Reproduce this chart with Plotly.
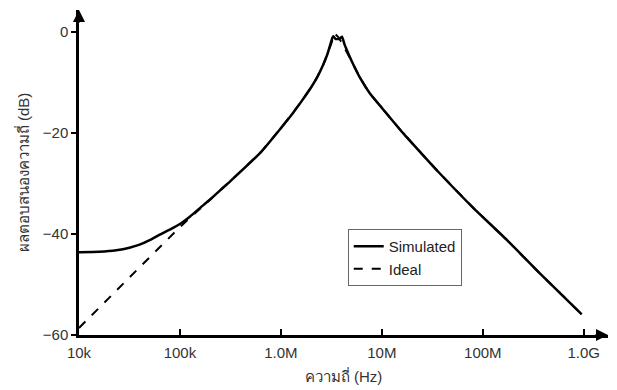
import plotly.graph_objects as go

# Ideal response (Hz, dB)
ideal_f = [1.0e4, 1.0e5, 3.162e5, 6.31e5, 1.0e6, 1.318e6, 1.585e6, 1.995e6, 2.291e6,
           2.63e6, 2.884e6, 3.162e6, 3.388e6, 3.715e6, 3.981e6, 4.467e6, 5.129e6,
           6.026e6, 7.586e6, 1.0e7, 1.622e7, 2.512e7, 3.715e7, 7.943e7, 1.738e8,
           3.631e8, 9.55e8]
ideal_db = [-58.6, -38.6, -29.5, -23.8, -19.0, -16.0, -13.8, -10.9, -8.9,
            -6.4, -4.4, -2.2, -0.2, -1.0, -2.0, -3.8, -6.1,
            -8.9, -12.1, -15.0, -20.0, -24.2, -27.9, -34.7, -41.2,
            -47.7, -55.9]

# Simulated response (Hz, dB)
sim_f = [1.0e4, 1.585e4, 2.34e4, 3.162e4, 3.98e4, 5.01e4, 6.31e4, 7.94e4, 1.0e5,
         1.26e5, 1.585e5, 2.0e5, 2.512e5, 3.162e5, 6.31e5, 1.0e6, 1.318e6, 1.585e6,
         1.995e6, 2.291e6, 2.63e6, 2.884e6, 3.09e6, 3.236e6, 3.311e6, 3.467e6,
         3.802e6, 4.027e6, 4.266e6, 4.677e6, 5.129e6, 6.026e6, 7.586e6, 1.0e7,
         1.622e7, 2.512e7, 3.715e7, 7.943e7, 1.738e8, 3.631e8, 9.55e8]
sim_db = [-43.6, -43.5, -43.2, -42.7, -42.1, -41.2, -40.1, -39.1, -38.0,
          -36.5, -34.8, -33.1, -31.3, -29.5, -23.8, -19.0, -16.0, -13.8,
          -10.9, -8.9, -6.4, -4.4, -2.4, -1.1, -0.8, -1.3,
          -1.3, -0.9, -2.4, -4.3, -6.1, -8.9, -12.1, -15.0,
          -20.0, -24.2, -27.9, -34.7, -41.2, -47.7, -55.9]

x_tickvals = [1e4, 1e5, 1e6, 1e7, 1e8, 1e9]
x_ticktext = ["10k", "100k", "1.0M", "10M", "100M", "1.0G"]
y_tickvals = [0, -20, -40, -60]

FONT = "Liberation Sans, Arial, sans-serif"
fig = go.Figure()
fig.add_trace(go.Scatter(x=sim_f, y=sim_db, mode="lines", name="Simulated",
                         line=dict(color="black", width=2.5, shape="spline", smoothing=0.5)))
fig.add_trace(go.Scatter(x=ideal_f, y=ideal_db, mode="lines", name="Ideal",
                         line=dict(color="black", width=2, dash="dash")))

# the page body adds an 8px offset, so the figure is sized to the remaining area
fig.update_layout(
    width=609, height=382,
    margin=dict(l=71, r=9, t=2, b=55, autoexpand=False),
    paper_bgcolor="white", plot_bgcolor="white",
    font=dict(family=FONT, size=15, color="#333"),
    showlegend=True,
    legend=dict(x=0.508, y=0.326, xanchor="left", yanchor="top",
                bordercolor="#666", borderwidth=1, bgcolor="white",
                font=dict(size=15, color="#222"), tracegroupgap=2,
                itemwidth=30),
    xaxis=dict(type="log", range=[4, 9.24], tickvals=x_tickvals, ticktext=x_ticktext,
               ticks="inside", ticklen=6, tickwidth=2, tickcolor="black",
               ticklabelstandoff=2,
               showline=True, linecolor="black", linewidth=2.5, showgrid=False,
               zeroline=False, automargin=False,
               title=dict(text="ความถี่ (Hz)", standoff=12, font=dict(size=15, color="#333"))),
    yaxis=dict(range=[-60, 4.4], tickvals=y_tickvals,
               ticks="outside", ticklen=5, tickwidth=2, tickcolor="black",
               showline=True, linecolor="black", linewidth=2.5, showgrid=False,
               zeroline=False, automargin=False,
               title=dict(text="ผลตอบสนองความถี่ (dB)", standoff=10, font=dict(size=15, color="#333"))),
)

# axis arrows
fig.add_annotation(x=1.0, y=0, xref="paper", yref="paper", ax=-14, ay=0,
                   showarrow=True, arrowhead=2, arrowsize=1.2, arrowwidth=2, arrowcolor="black", text="")
fig.add_annotation(x=0, y=1.0, xref="paper", yref="paper", ax=0, ay=14,
                   showarrow=True, arrowhead=2, arrowsize=1.2, arrowwidth=2, arrowcolor="black", text="")

fig.write_html("out.html")
